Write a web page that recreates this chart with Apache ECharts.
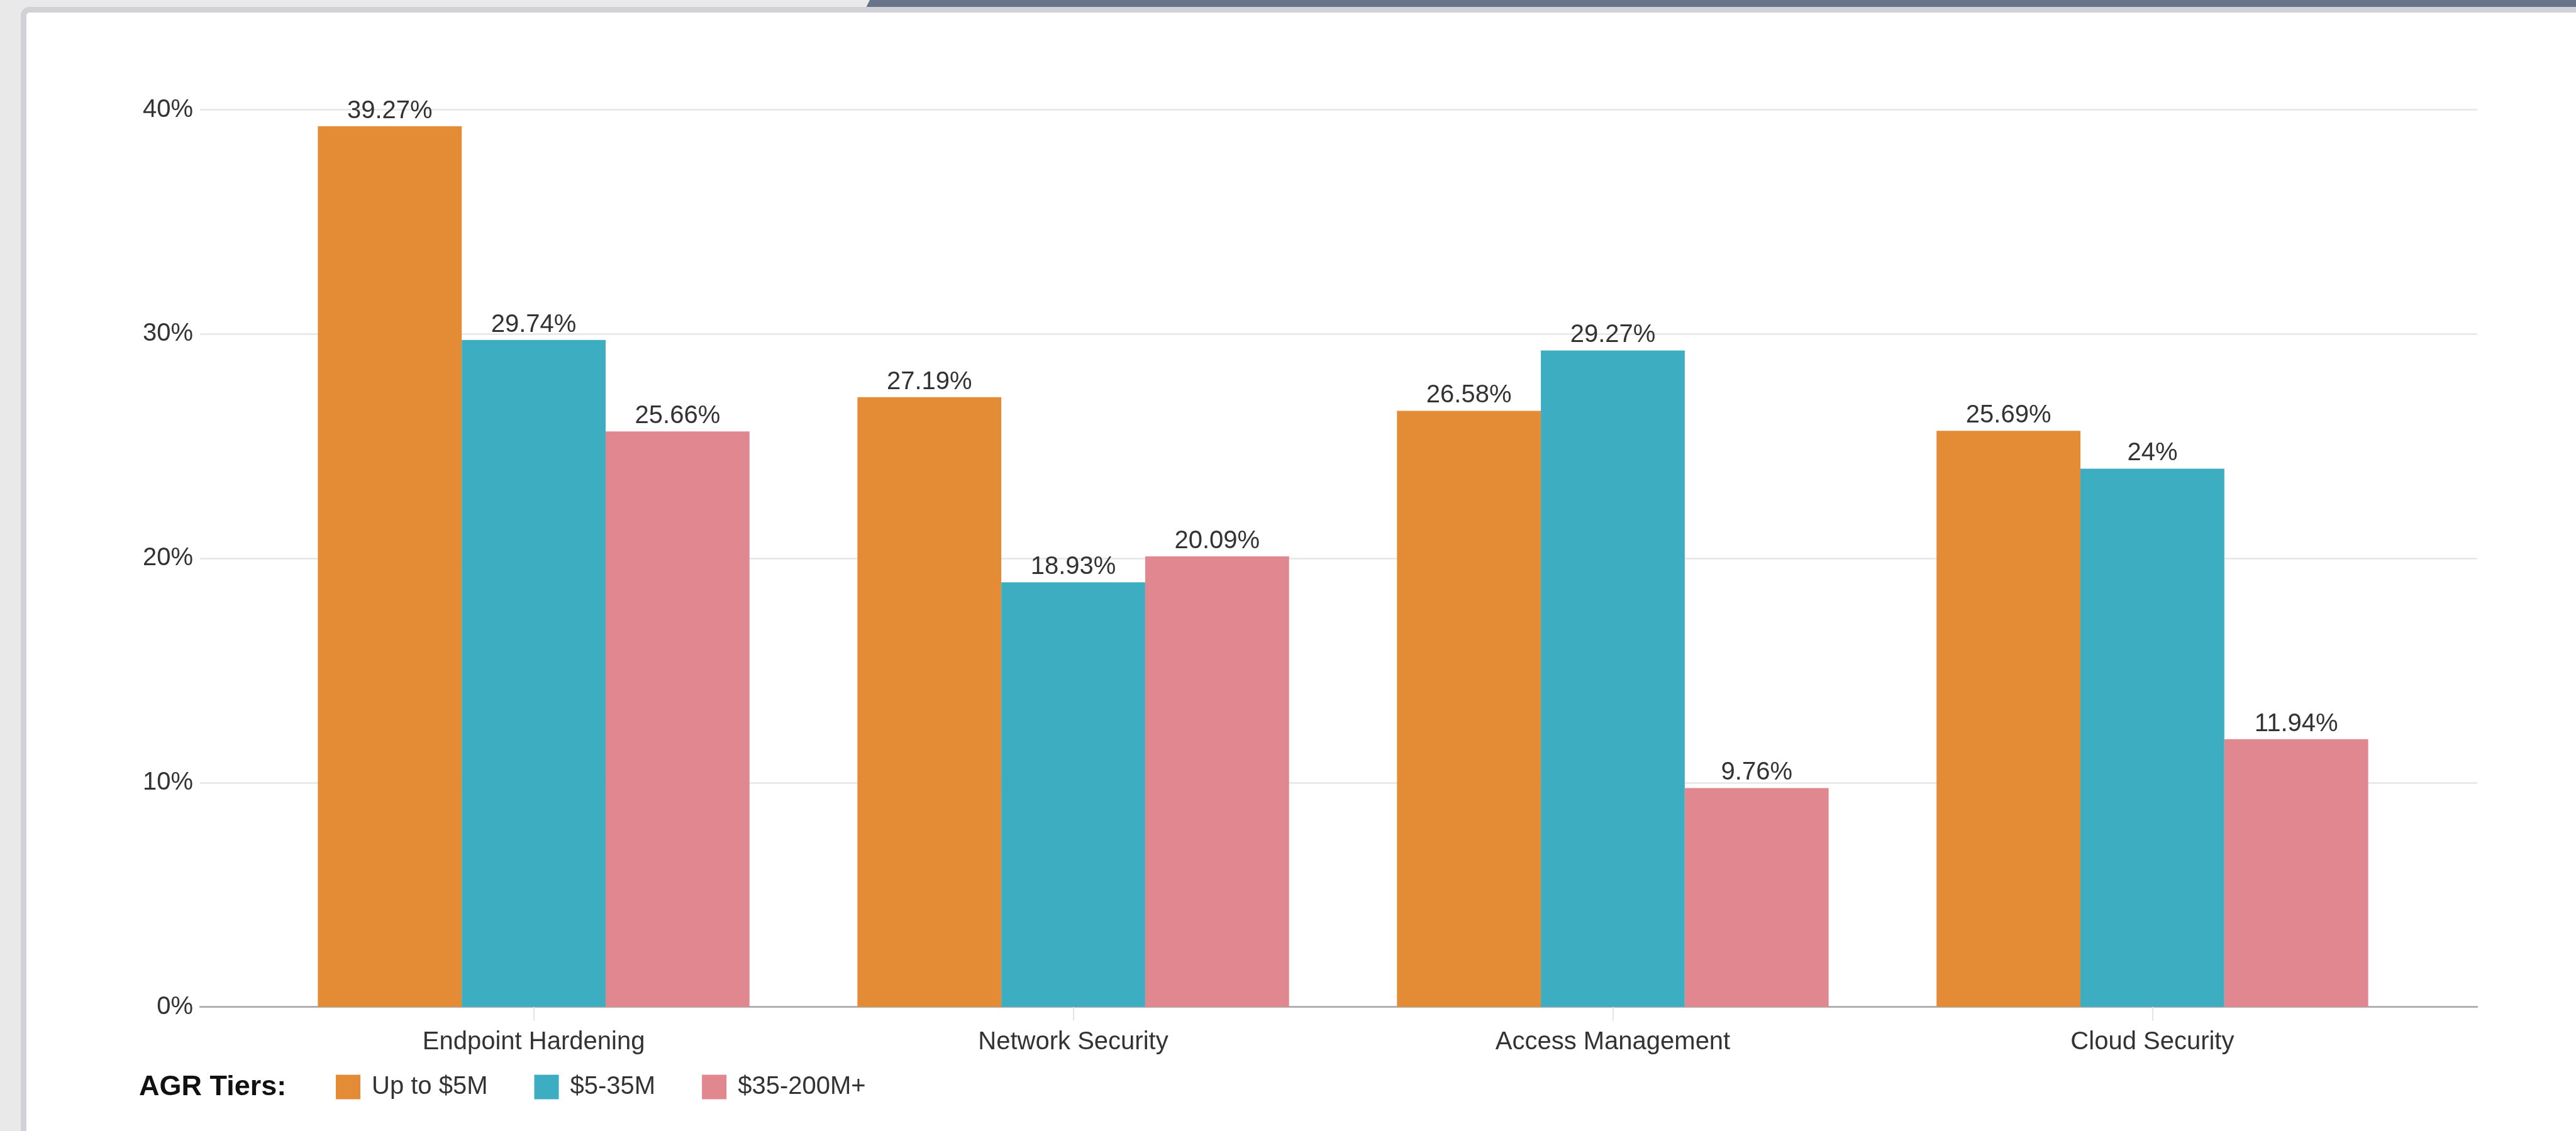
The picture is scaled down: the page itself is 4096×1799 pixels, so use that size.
<!DOCTYPE html>
<html>
<head>
<meta charset="utf-8">
<title>AGR Tiers</title>
<script src="https://cdn.jsdelivr.net/npm/echarts@6/dist/echarts.min.js"></script>
<style>
  html, body { margin: 0; padding: 0; width: 100%; height: 100%; overflow: hidden; background: #e9e9e9; }
  #topbar {
    position: absolute; left: 1377px; top: 0; right: 0; height: 12px; background: #67748a;
    clip-path: polygon(6px 0, 100% 0, 100% 100%, 0 100%);
  }
  #card {
    position: absolute; left: 33px; top: 11px; right: -20px; bottom: -20px;
    background: #ffffff; border-left: 9px solid #d0d2d6; border-top: 9px solid #d0d2d6;
    border-top-left-radius: 14px;
  }
  #chart { position: absolute; left: 0; top: 0; width: 4096px; height: 1799px; }
</style>
</head>
<body>
<div id="topbar"></div>
<div id="card"></div>
<div id="chart"></div>
<script>
// Share of spend per security area, by AGR tier (percent)
const categories = ['Endpoint Hardening', 'Network Security', 'Access Management', 'Cloud Security'];
const tierNames = ['Up to $5M', '$5-35M', '$35-200M+'];
const upTo5M = [39.27, 27.19, 26.58, 25.69];
const from5To35M = [29.74, 18.93, 29.27, 24];
const from35To200M = [25.66, 20.09, 9.76, 11.94];
const tierColors = ['#e48b36', '#3daec2', '#e18790'];
const yTicks = { min: 0, max: 40, interval: 10 };

const FONT = '"Liberation Sans", Arial, Helvetica, sans-serif';
const TEXT = '#333333';

const seriesValues = [upTo5M, from5To35M, from35To200M];

const chart = echarts.init(document.getElementById('chart'), null, { renderer: 'canvas' });

const option = {
  backgroundColor: 'transparent',
  animation: false,
  textStyle: { fontFamily: FONT },
  graphic: [{
    type: 'text',
    left: 221,
    top: 1707,
    style: {
      text: 'AGR Tiers:',
      font: 'bold 45px ' + FONT,
      fill: '#111111'
    }
  }],
  legend: {
    data: tierNames,
    left: 529,
    top: 1704,
    icon: 'rect',
    itemWidth: 39,
    itemHeight: 39,
    itemGap: 74,
    textStyle: { fontSize: 40, color: TEXT, fontFamily: FONT, padding: [0, 0, 0, 13] }
  },
  grid: [
    // frame grid: value axis, gridlines and baseline
    { left: 318, right: 157, top: 174.7, bottom: 197.4, containLabel: false },
    // bar grid: category bands
    { left: 419.6, right: 244.6, top: 174.7, bottom: 197.4, containLabel: false }
  ],
  xAxis: [
    {
      gridIndex: 0, type: 'value', min: 0, max: 1,
      axisLine: { show: true, lineStyle: { color: '#a6a6a6', width: 2.5 } },
      axisTick: { show: false }, axisLabel: { show: false }, splitLine: { show: false }
    },
    {
      gridIndex: 1, type: 'category', data: categories,
      axisLine: { show: false },
      axisTick: { show: true, alignWithLabel: true, length: 22, lineStyle: { color: '#e4e4e4', width: 2 } },
      axisLabel: { fontSize: 40, color: TEXT, fontFamily: FONT, margin: 36 }
    }
  ],
  yAxis: [
    {
      gridIndex: 0, type: 'value', min: yTicks.min, max: yTicks.max, interval: yTicks.interval,
      axisLine: { show: false }, axisTick: { show: false },
      axisLabel: { fontSize: 40, color: TEXT, fontFamily: FONT, margin: 11, formatter: '{value}%' },
      splitLine: { show: true, lineStyle: { color: '#e6e6e6', width: 2.5 } }
    },
    {
      gridIndex: 1, type: 'value', min: yTicks.min, max: yTicks.max, interval: yTicks.interval,
      show: false, splitLine: { show: false }
    }
  ],
  series: tierNames.map((name, i) => ({
    name: name,
    type: 'bar',
    xAxisIndex: 1,
    yAxisIndex: 1,
    data: seriesValues[i],
    barGap: '0%',
    barCategoryGap: '20%',
    itemStyle: { color: tierColors[i] },
    label: {
      show: true,
      position: 'top',
      distance: 4,
      fontSize: 40,
      color: TEXT,
      fontFamily: FONT,
      formatter: p => p.value + '%'
    }
  }))
};

chart.setOption(option);
</script>
</body>
</html>
